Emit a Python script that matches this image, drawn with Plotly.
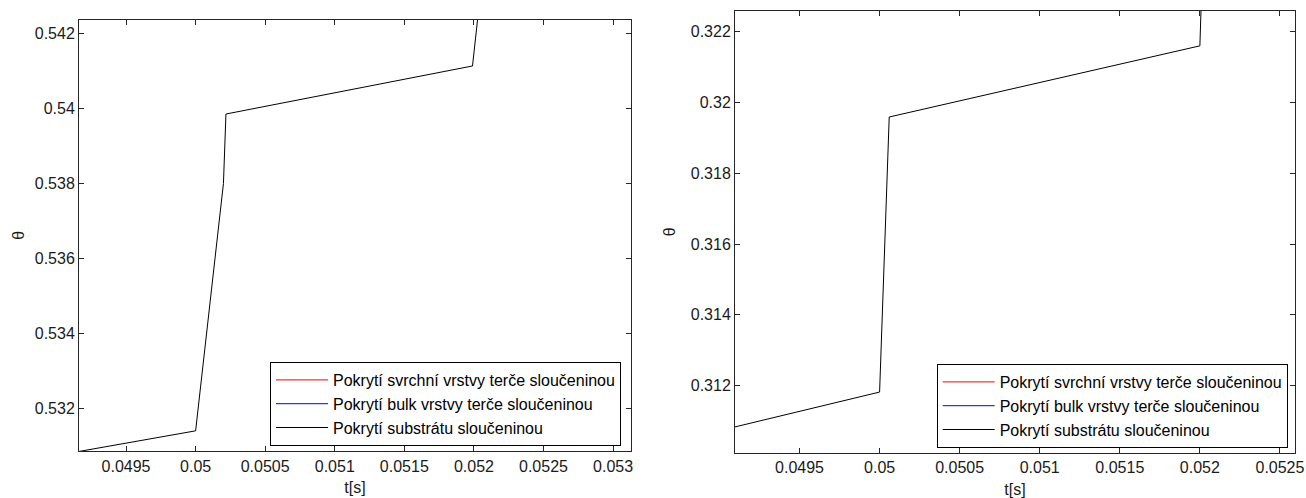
import plotly.graph_objects as go

# ---- data ----
series_names = [
    "Pokrytí svrchní vrstvy terče sloučeninou",
    "Pokrytí bulk vrstvy terče sloučeninou",
    "Pokrytí substrátu sloučeninou",
]
series_colors = ["#ff0000", "#0000ff", "#000000"]

# left panel (substrate coverage, zoomed)
t_left = [0.0491, 0.05, 0.0502, 0.050218, 0.05199, 0.05204]
theta_left = [0.53082, 0.53141, 0.5380, 0.53985, 0.54113, 0.54283]

# right panel (substrate coverage, zoomed)
t_right = [0.049, 0.05, 0.05006, 0.052, 0.052008]
theta_right = [0.31073, 0.31182, 0.31959, 0.3216, 0.32275]

# axis ranges and ticks
xrange_left = [0.049162, 0.053129]
yrange_left = [0.530865, 0.542368]
xrange_right = [0.049097, 0.052594]
yrange_right = [0.310107, 0.322593]

xticks_left = [0.0495, 0.05, 0.0505, 0.051, 0.0515, 0.052, 0.0525, 0.053]
yticks_left = [0.532, 0.534, 0.536, 0.538, 0.54, 0.542]
xticks_right = [0.0495, 0.05, 0.0505, 0.051, 0.0515, 0.052, 0.0525]
yticks_right = [0.312, 0.314, 0.316, 0.318, 0.32, 0.322]

x_title = "t[s]"
y_title = "θ"

W, H = 1306, 498
FONT = "Liberation Sans, Arial, sans-serif"
AXC = "#262626"

fig = go.Figure()

panels = [
    ("x", "y", "legend", t_left, theta_left),
    ("x2", "y2", "legend2", t_right, theta_right),
]
for xa, ya, lg, tx, ty in panels:
    for i, (name, col) in enumerate(zip(series_names, series_colors)):
        if i < 2:
            xs, ys = [None], [None]
        else:
            xs, ys = tx, ty
        fig.add_trace(go.Scatter(
            x=xs, y=ys, mode="lines", name=name,
            line=dict(color=col, width=1),
            xaxis=xa, yaxis=ya, legend=lg, showlegend=True,
        ))


def ax_common(tickvals):
    return dict(
        tickvals=tickvals,
        ticktext=[f"{v:g}" for v in tickvals],
        showline=True, mirror="allticks", linecolor=AXC, linewidth=1,
        ticks="inside", ticklen=5, tickcolor=AXC, tickwidth=1,
        showgrid=False, zeroline=False,
        tickfont=dict(family=FONT, size=16, color="#1a1a1a"),
        automargin=False,
    )


fig.update_layout(
    width=W, height=H,
    margin=dict(l=0, r=0, t=0, b=0),
    paper_bgcolor="white", plot_bgcolor="white",
    font=dict(family=FONT, size=16, color="#1a1a1a"),
    xaxis=dict(domain=[79 / W, 631 / W], range=xrange_left, anchor="y",
               title=dict(text=x_title, standoff=8, font=dict(size=16)),
               **ax_common(xticks_left)),
    yaxis=dict(domain=[1 - 451.3 / H, 1 - 19.5 / H], range=yrange_left, anchor="x",
               title=dict(text=y_title, standoff=6, font=dict(size=16)),
               **ax_common(yticks_left)),
    xaxis2=dict(domain=[735 / W, 1295 / W], range=xrange_right, anchor="y2",
                title=dict(text=x_title, standoff=8, font=dict(size=16)),
                **ax_common(xticks_right)),
    yaxis2=dict(domain=[1 - 452.7 / H, 1 - 10.7 / H], range=yrange_right, anchor="x2",
                title=dict(text=y_title, standoff=11, font=dict(size=16)),
                **ax_common(yticks_right)),
    legend=dict(x=621 / W, y=1 - 446 / H, xanchor="right", yanchor="bottom",
                bgcolor="white", bordercolor="#000000", borderwidth=1,
                font=dict(family=FONT, size=16, color="#000000"),
                itemwidth=52, tracegroupgap=0),
    legend2=dict(x=1287.7 / W, y=1 - 448 / H, xanchor="right", yanchor="bottom",
                 bgcolor="white", bordercolor="#000000", borderwidth=1,
                 font=dict(family=FONT, size=16, color="#000000"),
                 itemwidth=52, tracegroupgap=0),
    showlegend=True,
)

fig.write_html("out.html")
